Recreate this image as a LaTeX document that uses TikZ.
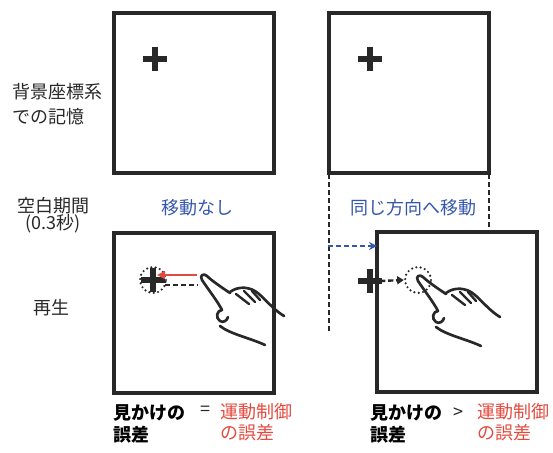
\documentclass[tikz,border=0pt]{standalone}
\usepackage{fontspec}
\setmainfont{Noto Sans CJK JP}
\usetikzlibrary{arrows.meta,calc}

\definecolor{ink}{RGB}{40,40,40}
\definecolor{moveblue}{RGB}{52,86,172}
\definecolor{errred}{RGB}{226,74,62}

\tikzset{
  panel/.style={draw=ink,line width=2.3pt,minimum size=120pt,inner sep=0pt,outer sep=0pt},
  sidetext/.style={inner sep=0.75pt,text=ink,font=\fontsize{13.5}{16}\selectfont},
  bluetext/.style={sidetext,text=moveblue},
  redtext/.style={sidetext,text=errred,align=left,anchor=west},
  ring/.style={circle,draw=ink,line width=1.8pt,dash pattern=on 0pt off 3.3pt,line cap=round,minimum size=19.5pt,inner sep=0pt},
  guide/.style={draw=ink,line width=0.9pt,dash pattern=on 4pt off 2pt},
  fixmark/.pic={\draw[ink,line width=3.8pt] (-12,0) -- (12,0) (0,-12) -- (0,12);},
  hand/.pic={
    \draw[ink,line width=2pt,line cap=round,line join=round]
      (28,16) .. controls (22,12) and (10,4) .. (5,-1) .. controls (2,-4) and (-3,-2) .. (0,3)
      .. controls (6,12) and (16,25) .. (20,33) .. controls (15,33) and (13,41) .. (18,44)
      .. controls (21,46) and (25,44) .. (26,40);
    \draw[ink,line width=2pt,line cap=round]
      (18,49) .. controls (28,57) and (48,61) .. (63,68);
    \draw[ink,line width=2pt,line cap=round,line join=round]
      (28,15) .. controls (36,9) and (48,9) .. (57,17) .. controls (65,24) and (72,33) .. (82,39);
    \draw[ink,line width=1.8pt,line cap=round]
      (34,17) -- (47,27) (42,14) -- (53,25) (50,14) -- (58,23);
  }
}

\begin{document}
\begin{tikzpicture}[x=0.75pt,y=0.75pt,yscale=-1,xscale=1]
\useasboundingbox (0,0) rectangle (553,453);

%Shape: Square [memory, no motion]
\node[panel] (memL) at (194,93) {};
%Shape: Square [memory, moved]
\node[panel] (memR) at (409,93) {};
%Shape: Square [replay, no motion]
\node[panel] (playL) at (194,313) {};
%Shape: Square [replay, moved]
\node[panel] (playR) at (457,312) {};

%Fixation crosses
\coordinate (crossA) at (155,59);
\coordinate (crossB) at (370,59);
\coordinate (crossL) at (153,280);
\coordinate (crossR) at (370,281);
\pic at (crossA) {fixmark};
\pic at (crossB) {fixmark};
\pic at (crossL) {fixmark};

%Dashed guides from the moved frame
\coordinate (guideEnd) at (328,333);
\draw[guide] ($(memR.south west)+(0,-55)$) -- (memR.south west |- guideEnd);
\draw[guide] ($(memR.south east)+(0,-55)$) -- (memR.south east |- playR.north);

%Blue shift arrow
\coordinate (shiftStart) at (328,246);
\draw[moveblue,line width=1.6pt,dash pattern=on 4pt off 2pt,-{Stealth[length=6pt,width=6pt]}] (shiftStart) -- (shiftStart -| playR.west);

%Replay, no motion
\node[ring] (ringL) at (crossL) {};
\coordinate (tipL) at (202,277);
\coordinate (redStart) at (197,275);
\coordinate (redEnd) at (157,275);
\coordinate (dashStart) at (165,285);
\coordinate (dashEnd) at (198,285);
\draw[ink,line width=1.8pt,dash pattern=on 4pt off 2pt] (dashStart) -- (dashEnd);
\draw[errred,line width=1.8pt,-{Triangle[length=6pt,width=6pt]}] (redStart) -- (redEnd);
\pic[yscale=-1] at (tipL) {hand};

%Replay, moved
\pic at (crossR) {fixmark};
\node[ring] (ringR) at (418,280) {};
\coordinate (crossRE) at (380,281);
\draw[ink,line width=1.8pt,dash pattern=on 4pt off 2pt,-{Triangle[length=5pt,width=6pt]}] (crossRE) -- (ringR.west);
\coordinate (tipR) at (418,278);
\pic[yscale=-1] at (tipR) {hand};

% Text Node
\node[sidetext,align=left,anchor=west,font=\fontsize{13.5}{18.75}\selectfont] (rowMem) at (11,104) {背景座標系\\での記憶};
% Text Node
\node[sidetext,align=center,font=\fontsize{13.5}{12.75}\selectfont] (rowBlank) at (53,215) {空白期間\\(0.3秒)};
% Text Node
\node[sidetext] (rowPlay) at (51,308) {再生};
% Text Node
\node[bluetext] (condL) at (197,208) {移動なし};
% Text Node
\node[bluetext] (condR) at (413,208) {同じ方向へ移動};

% Text Node
\node[sidetext,align=left,anchor=west,text=black,font=\bfseries\fontsize{13.5}{16.5}\selectfont] (seenL) at (112,424) {見かけの\\誤差};
\node[sidetext] (eqL) at (205,411) {=};
\node[redtext] (motorL) at (219,422) {運動制御\\の誤差};
% Text Node
\node[sidetext,align=left,anchor=west,text=black,font=\bfseries\fontsize{13.5}{16.5}\selectfont] (seenR) at (369,424) {見かけの\\誤差};
\node[sidetext] (gtR) at (458,413) {>};
\node[redtext] (motorR) at (476,422) {運動制御\\の誤差};

\end{tikzpicture}
\end{document}
